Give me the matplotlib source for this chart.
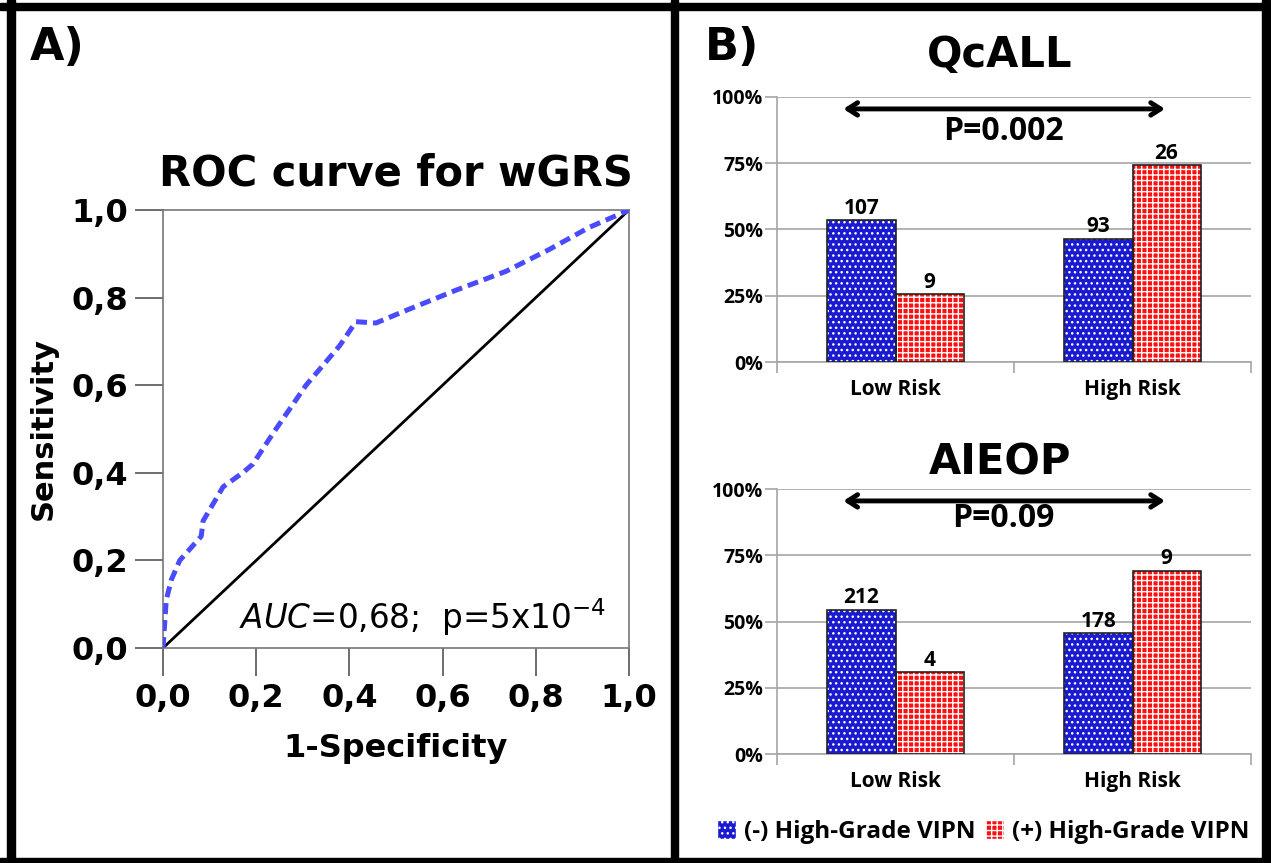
import matplotlib
matplotlib.use("Agg")
import matplotlib.pyplot as plt
from matplotlib.patches import Rectangle, Patch

# ---------------- data ----------------
roc_fpr = [0.0, 0.007, 0.018, 0.036, 0.082, 0.086, 0.129, 0.171, 0.193, 0.236,
           0.307, 0.379, 0.414, 0.457, 0.52, 0.629, 0.736, 0.829, 0.914, 1.0]
roc_tpr = [0.0, 0.11, 0.156, 0.20, 0.255, 0.29, 0.368, 0.40, 0.42, 0.49,
           0.60, 0.69, 0.745, 0.742, 0.77, 0.817, 0.86, 0.91, 0.96, 1.0]
roc_ticks = [0.0, 0.2, 0.4, 0.6, 0.8, 1.0]
roc_tick_labels = ["0,0", "0,2", "0,4", "0,6", "0,8", "1,0"]

categories = ["Low Risk", "High Risk"]
series_names = ["(-) High-Grade VIPN", "(+) High-Grade VIPN"]
pct_ticks = [0, 25, 50, 75, 100]
pct_tick_labels = ["0%", "25%", "50%", "75%", "100%"]

qcall_neg_pct = [53.5, 46.5]
qcall_pos_pct = [25.7, 74.3]
qcall_neg_n = [107, 93]
qcall_pos_n = [9, 26]
qcall_p = "P=0.002"

aieop_neg_pct = [54.4, 45.6]
aieop_pos_pct = [30.8, 69.2]
aieop_neg_n = [212, 178]
aieop_pos_n = [4, 9]
aieop_p = "P=0.09"

# ---------------- figure ----------------
W, H = 1271, 863
fig = plt.figure(figsize=(W / 100, H / 100), dpi=100)
fig.patch.set_facecolor("white")


def fx(px):
    return px / W


def fy(py):
    return 1 - py / H


# black frame / divider
for (x0, y0, x1, y1) in [(0, 3, W, 10), (7, 0, 15, H), (0, 858, W, H),
                         (1262, 0, 1270, H), (671, 0, 678, H)]:
    fig.patches.append(Rectangle((fx(x0), fy(y1)), fx(x1) - fx(x0), fy(y0) - fy(y1),
                                 transform=fig.transFigure, color="black", zorder=10))

LFONT = "DejaVu Sans"
RFONT = "Open Sans"

# ---------------- ROC panel ----------------
axr = fig.add_axes([fx(163), fy(648), fx(629) - fx(163), fy(210) - fy(648)])
axr.plot([0, 1], [0, 1], color="black", lw=2.0, zorder=2)
axr.plot(roc_fpr, roc_tpr, color="#4a4aff", lw=3.6, ls=(0, (2.2, 1.2)), zorder=3,
         solid_capstyle="butt")
axr.set_xlim(0, 1)
axr.set_ylim(0, 1)
axr.set_xticks(roc_ticks)
axr.set_yticks(roc_ticks)
axr.set_xticklabels(roc_tick_labels, fontsize=23, fontweight="bold", family=LFONT)
axr.set_yticklabels(roc_tick_labels, fontsize=23, fontweight="bold", family=LFONT)
axr.tick_params(direction="out", length=20, width=1.2, color="#555555", pad=5)
for s in axr.spines.values():
    s.set_color("#777777")
    s.set_linewidth(1.2)
axr.set_xlabel("1-Specificity", fontsize=23, fontweight="bold", family=LFONT, labelpad=14)
axr.set_ylabel("Sensitivity", fontsize=22, fontweight="bold", family=LFONT, labelpad=10)
axr.set_title("ROC curve for wGRS", fontsize=30, fontweight="bold", family=LFONT, pad=18)
axr.text(0.95, 0.07, r"$\mathit{AUC}$=0,68;  p=5x10$^{-4}$", transform=axr.transAxes,
         ha="right", va="center", fontsize=23.5, family=LFONT)

fig.text(fx(30), fy(48), "A)", fontsize=32, fontweight="bold", family=LFONT,
         ha="left", va="center")
fig.text(fx(705), fy(48), "B)", fontsize=32, fontweight="bold", family=LFONT,
         ha="left", va="center")

# ---------------- bar panels ----------------
BLUE = "#1a1ad0"
RED = "#ff1010"
bw = 0.287


def hatched_bar(ax, x, h, color, hatch):
    ax.bar(x, h, width=bw, color=color, edgecolor="white", hatch=hatch, lw=0, zorder=3)
    ax.bar(x, h, width=bw, facecolor="none", edgecolor="#222222", lw=1.2, zorder=4)


def bar_panel(ax, neg, pos, neg_n, pos_n, ptext, ptext_y, title, title_py):
    xs = range(len(categories))
    for i in xs:
        hatched_bar(ax, i - bw / 2, neg[i], BLUE, "...")
        hatched_bar(ax, i + bw / 2, pos[i], RED, "+++")
        ax.annotate(str(neg_n[i]), (i - bw / 2, neg[i]), xytext=(0, 1),
                    textcoords="offset points", ha="center", va="bottom",
                    fontsize=15, fontweight="bold", family=RFONT)
        ax.annotate(str(pos_n[i]), (i + bw / 2, pos[i]), xytext=(0, 1),
                    textcoords="offset points", ha="center", va="bottom",
                    fontsize=15, fontweight="bold", family=RFONT)
    ax.set_xlim(-0.5, 1.5)
    ax.set_ylim(0, 100)
    ax.set_yticks(pct_ticks)
    ax.set_yticklabels(pct_tick_labels, fontsize=14, fontweight="bold", family=RFONT)
    ax.yaxis.grid(True, color="#a6a6a6", lw=1.2, zorder=0)
    ax.set_axisbelow(True)
    ax.tick_params(axis="y", length=9, color="#a6a6a6", width=1.2, pad=1)
    ax.set_xticks([-0.5, 0.5, 1.5], minor=False)
    ax.set_xticklabels([])
    ax.set_xticks([0, 1], minor=True)
    ax.set_xticklabels(categories, minor=True, fontsize=15, fontweight="bold", family=RFONT)
    ax.tick_params(axis="x", which="major", length=8, color="#a6a6a6", width=1.2)
    ax.tick_params(axis="x", which="minor", length=0, pad=12)
    for k in ["top", "right"]:
        ax.spines[k].set_visible(False)
    for k in ["left", "bottom"]:
        ax.spines[k].set_color("#a6a6a6")
        ax.spines[k].set_linewidth(1.2)
    ax.annotate("", xy=(1.137, 95.5), xytext=(-0.22, 95.5),
                arrowprops=dict(arrowstyle="<->,head_length=0.7,head_width=0.45",
                                lw=3.5, color="black", shrinkA=0, shrinkB=0))
    ax.text(0.454, ptext_y, ptext, ha="center", va="center", fontsize=23,
            fontweight="bold", family=RFONT)
    fig.text(fx(1000), fy(title_py), title, ha="center", va="center", fontsize=30,
             fontweight="bold", family=LFONT)


ax1 = fig.add_axes([fx(777), fy(362), fx(1251) - fx(777), fy(97) - fy(362)])
bar_panel(ax1, qcall_neg_pct, qcall_pos_pct, qcall_neg_n, qcall_pos_n, qcall_p, 87,
          "QcALL", 55)
ax2 = fig.add_axes([fx(777), fy(754), fx(1251) - fx(777), fy(489) - fy(754)])
bar_panel(ax2, aieop_neg_pct, aieop_pos_pct, aieop_neg_n, aieop_pos_n, aieop_p, 89,
          "AIEOP", 462)

handles = [Patch(facecolor=BLUE, edgecolor="white", hatch="..."),
           Patch(facecolor=RED, edgecolor="white", hatch="+++")]
fig.legend(handles, series_names, loc="center", bbox_to_anchor=(fx(983), fy(832)),
           ncol=2, frameon=False, handlelength=0.8, handleheight=0.8,
           handletextpad=0.3, columnspacing=0.4, borderpad=0.1,
           prop=dict(family=RFONT, weight="bold", size=17.5))

fig.savefig("out.png", dpi=100, facecolor="white")
